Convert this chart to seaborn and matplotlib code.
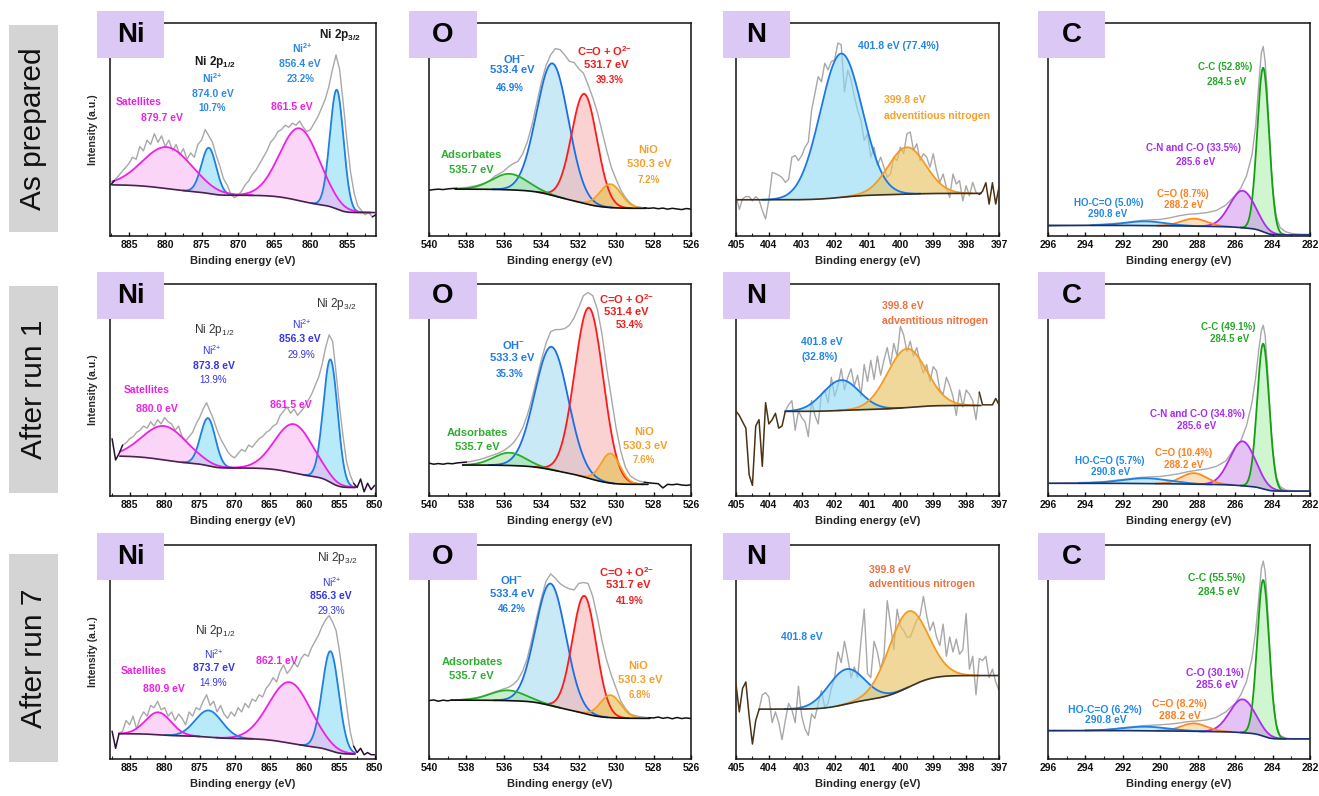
import numpy as np
import matplotlib
matplotlib.use("Agg")
import matplotlib.pyplot as plt
import seaborn as sns
from matplotlib.patches import Rectangle
from matplotlib.ticker import MultipleLocator

# ------------------------------------------------------------------
# values, intensities in % of the frame height
# ------------------------------------------------------------------
row_names = ["As prepared", "After run 1", "After run 7"]
element_names = ["Ni", "O", "N", "C"]

# fitted components: (centre eV, height above background, FWHM eV, species)
ni_peaks_1 = [(856.4, 56.0, 2.2, "ni2"), (861.5, 34.0, 6.4, "sat"), (874.0, 21.5, 2.4, "ni2"), (879.7, 19.5, 8.0, "sat")]
ni_peaks_2 = [(856.3, 58.0, 2.4, "ni2"), (861.5, 23.0, 6.4, "sat"), (873.8, 22.5, 2.5, "ni2"), (880.0, 16.0, 7.5, "sat")]
ni_peaks_3 = [(856.3, 46.5, 2.8, "ni2"), (862.1, 28.5, 7.0, "sat"), (873.7, 12.5, 4.5, "ni2"), (880.9, 10.5, 4.3, "sat")]
o_peaks_1 = [(533.4, 62.0, 2.0, "oh"), (531.7, 51.5, 1.6, "ox"), (530.3, 11.0, 1.35, "nio"), (535.7, 7.5, 2.2, "ads")]
o_peaks_2 = [(533.45, 58.0, 2.1, "oh"), (531.45, 80.5, 1.8, "ox"), (530.3, 14.0, 1.2, "nio"), (535.7, 6.0, 2.0, "ads")]
o_peaks_3 = [(533.5, 57.0, 1.9, "oh"), (531.7, 55.0, 1.5, "ox"), (530.3, 10.5, 1.3, "nio"), (535.8, 4.8, 2.2, "ads")]
n_peaks_1 = [(401.8, 67.5, 1.5, "amine"), (399.8, 22.0, 1.35, "adv")]
n_peaks_2 = [(401.8, 14.3, 1.3, "amine"), (399.8, 27.7, 1.4, "adv")]
n_peaks_3 = [(401.65, 16.3, 1.3, "amine"), (399.77, 35.4, 1.4, "adv")]
c_peaks_1 = [(284.5, 77.0, 0.75, "cc"), (285.6, 17.4, 1.6, "cn"), (288.2, 3.5, 1.6, "ketone"), (290.8, 2.0, 2.5, "hoco")]
c_peaks_2 = [(284.5, 68.5, 0.75, "cc"), (285.6, 21.0, 1.6, "cn"), (288.2, 5.2, 1.6, "ketone"), (290.8, 2.5, 3.0, "hoco")]
c_peaks_3 = [(284.5, 73.0, 0.75, "cc"), (285.6, 15.6, 1.6, "cn"), (288.2, 3.7, 1.6, "ketone"), (290.8, 1.9, 2.8, "hoco")]

# background level at the (low, high) binding energy end of the fit window
ni_bg = [(11.0, 24.0), (4.0, 18.8), (2.3, 11.8)]
o_bg = [(13.0, 22.0), (5.5, 14.6), (19.0, 27.5)]
n_bg = [(20.0, 17.0), (42.7, 39.9), (39.0, 23.3)]
c_bg = [(0.5, 5.0), (2.3, 6.0), (9.4, 13.3)]

# fit windows (low eV, high eV)
ni_window = [(851.2, 887.3), (852.8, 886.4), (852.8, 886.5)]
o_window = [(528.4, 538.6), (528.3, 538.2), (528.2, 538.8)]
n_window = [(397.55, 405.0), (397.55, 403.5), (397.0, 404.3)]
c_window = [(282.0, 296.0), (282.0, 296.0), (282.0, 296.0)]

# raw spectra, Ni: 887.5 eV downwards in 0.5 eV steps
ni_raw_1 = [24, 26, 28, 30, 32, 34, 37, 36, 42, 40, 45, 43, 48, 44, 47, 42,
            45, 40, 43, 38, 41, 36, 39, 37, 43, 45, 50, 47, 44, 38, 33, 27, 24, 20, 18, 19,
            21, 24, 26, 29, 31, 34, 37, 40, 44, 46, 49, 50, 52, 51, 53, 52, 54, 51, 49, 50,
            53, 56, 60, 64, 70, 78, 85, 78, 62, 45, 30, 20, 14, 12, 10, 11, 9, 10]
ni_raw_2 = [27, 17, 20, 24, 25, 27, 28, 30, 31, 33, 32, 35, 33, 36, 34, 37,
            35, 34, 31, 33, 28, 26, 28, 30, 34, 37, 41, 44, 40, 36, 31, 27, 24, 21, 19, 18,
            20, 22, 21, 24, 23, 25, 27, 28, 30, 31, 33, 34, 38, 40, 42, 39, 41, 38, 40, 42,
            45, 48, 52, 56, 62, 70, 76, 73, 58, 42, 28, 16, 10, 6, 4, 8, 2, 6, 3, 5]
ni_raw_3 = [13, 5, 12, 13, 18, 16, 20, 14, 19, 22, 20, 25, 24, 27, 23, 24,
            20, 22, 18, 21, 19, 16, 22, 20, 24, 23, 27, 30, 25, 27, 22, 25, 21, 19, 22, 20,
            24, 22, 26, 24, 28, 27, 30, 29, 33, 35, 38, 36, 41, 44, 40, 42, 45, 43, 47, 49,
            48, 52, 55, 58, 62, 65, 67, 64, 60, 50, 38, 25, 13, 6, 3, 5, 2, 3, 2, 2]

# O: 540 eV downwards in 0.25 eV steps
o_raw_1 = [21.5, 21.8, 22.0, 21.8, 22.1, 22.3, 22.4, 22.6, 22.8, 23.2, 23.6, 24.2, 25.0,
           26.0, 28.0, 29.2, 30.5, 32.5, 34.0, 35.0, 38.5, 44.0, 52.0, 62.0, 72.0, 80.0,
           85.0, 88.0, 87.5, 85.0, 82.0, 81.5, 78.5, 76.5, 71.0, 65.0, 58.0, 49.0, 40.0,
           32.0, 26.5, 21.5, 18.0, 15.5, 14.0, 13.5, 13.2, 13.0, 13.2, 12.8, 13.1, 12.6,
           13.0, 12.7, 12.4, 12.9, 12.6]
o_raw_2 = [15.5, 15.0, 15.3, 15.0, 15.4, 15.2, 15.6, 15.8, 16.0, 16.3, 16.8, 17.3, 18.0,
           18.8, 19.5, 20.4, 21.5, 23.0, 25.0, 28.0, 32.0, 38.0, 46.0, 55.0, 64.0, 72.0,
           77.5, 78.5, 78.5, 79.0, 80.5, 84.0, 89.0, 94.5, 96.0, 94.5, 88.0, 76.0, 60.0,
           46.0, 32.0, 21.0, 13.5, 9.5, 8.0, 7.0, 6.5, 6.2, 6.0, 5.8, 3.8, 5.5, 5.3, 5.6,
           5.2, 5.0, 5.3]
o_raw_3 = [27.3, 27.6, 27.0, 27.5, 27.2, 27.6, 27.4, 27.8, 28.0, 28.3, 28.6, 29.0, 29.8,
           30.5, 31.3, 32.0, 32.8, 33.5, 34.8, 37.0, 41.0, 47.0, 56.0, 66.0, 75.0, 83.0,
           86.5, 84.5, 82.0, 80.5, 79.5, 79.0, 82.0, 82.5, 82.0, 76.0, 66.0, 55.0, 46.0,
           39.0, 33.0, 27.0, 23.5, 21.0, 20.3, 19.8, 19.5, 19.3, 19.2, 19.6, 19.0, 19.4,
           18.8, 19.4, 18.9, 19.2, 18.9]

# N: 405 eV downwards in 0.1 eV steps
n_raw_1 = [18.9, 12.5, 17.5, 18.5, 18.5, 16.5, 18.5, 17.0, 12.0, 8.0,
           17.0, 29.8, 29.3, 28.5, 27.5, 25.2, 26.5, 37.0, 37.8, 35.4,
           37.8, 41.7, 44.1, 59.1, 66.9, 74.8, 72.4, 81.1, 78.0, 81.9,
           82.7, 90.6, 89.8, 67.7, 77.9, 73.2, 65.4, 59.1, 54.3, 44.9,
           48.0, 37.0, 41.7, 33.1, 37.0, 32.3, 27.6, 29.1, 37.0, 35.4,
           41.7, 38.6, 48.0, 48.8, 40.2, 43.3, 35.4, 38.6, 37.0, 32.3,
           38.6, 30.7, 25.2, 29.1, 22.8, 18.1, 29.1, 24.4, 26.0, 16.5,
           23.6, 18.9, 25.2, 20.5, 19.5, 21.0, 25.0, 15.0, 25.0, 15.0, 23.0]
n_raw_2 = [40, 38, 35, 32, 10, 5, 33, 36, 14, 44,
           34, 36, 39, 32, 33, 40, 43, 45, 31, 40,
           37, 35, 28, 45, 38, 34, 48, 50, 44, 56,
           47, 52, 60, 50, 56, 60, 52, 57, 47, 62,
           54, 64, 55, 66, 57, 64, 70, 62, 72, 66,
           80, 76, 68, 73, 66, 70, 63, 58, 62, 54,
           61, 59, 50, 48, 56, 52, 47, 38, 50, 42,
           50, 48, 45, 36, 49, 43, 43, 43, 43, 46, 43]
n_raw_3 = [35, 22, 33, 36, 20, 7, 18, 23, 30, 31,
           29, 17, 22, 17, 9, 18, 26, 23, 17, 34,
           20, 14, 11, 21, 19, 26, 32, 24, 26, 33,
           38, 50, 45, 55, 47, 38, 43, 38, 55, 70,
           40, 38, 55, 50, 42, 48, 74, 63, 51, 70,
           62, 60, 57, 57, 61, 65, 67, 76, 67, 60,
           64, 57, 53, 63, 48, 57, 50, 56, 49, 51,
           68, 42, 48, 30, 47, 46, 48, 38, 42, 36, 32]

# C: sampled at these energies
c_energy = [296, 295, 294, 293, 292, 291, 290, 289.5, 289, 288.5, 288, 287.5, 287, 286.5,
            286, 285.7, 285.4, 285.1, 284.9, 284.75, 284.6, 284.5, 284.4, 284.3, 284.2,
            284.1, 284.0, 283.8, 283.6, 283.3, 283.0, 282.5, 282.0]
c_raw_1 = [4.5, 4.8, 5.0, 5.6, 6.2, 7.3, 7.8, 8.5, 9.5, 10.2, 10.5, 11.0, 12.0, 14.5,
           19.0, 22.5, 28.0, 38.0, 52.0, 70.0, 86.0, 89.0, 82.0, 70.0, 52.0, 35.0, 22.0,
           9.0, 4.0, 2.0, 1.2, 0.8, 0.8]
c_raw_2 = [6.0, 6.2, 6.4, 6.8, 7.8, 8.8, 9.2, 9.8, 10.5, 11.5, 12.2, 12.8, 14.0, 16.5,
           23.0, 26.0, 33.0, 44.0, 56.0, 68.0, 78.0, 80.5, 76.0, 64.0, 49.0, 34.0, 22.0,
           9.0, 4.5, 2.8, 2.5, 2.4, 2.4]
c_raw_3 = [13.0, 13.1, 13.3, 13.6, 14.6, 15.5, 16.0, 16.3, 16.8, 17.5, 17.8, 18.3, 19.5,
           22.0, 26.0, 30.0, 36.0, 47.0, 60.0, 74.0, 89.0, 92.5, 88.0, 76.0, 59.0, 43.0,
           29.0, 16.0, 11.0, 9.8, 9.4, 9.4, 9.4]

# ------------------------------------------------------------------
# styles
# ------------------------------------------------------------------
species_style = {  # line colour, fill colour, fill alpha
    "ni2": ("#1f7fe3", "#7fd9f6", 0.55),
    "sat": ("#f01fe6", "#f7a3ef", 0.45),
    "oh": ("#1a6fe6", "#9fd7f2", 0.55),
    "ox": ("#ff1a1a", "#f8adad", 0.55),
    "nio": ("#f5a023", "#e0bb3a", 0.55),
    "ads": ("#27ad27", "#95e195", 0.5),
    "amine": ("#1c78e6", "#8edaf5", 0.6),
    "adv": ("#f59a24", "#e9c466", 0.65),
    "cc": ("#12a012", "#a9efa9", 0.55),
    "cn": ("#b02af0", "#cc85ec", 0.5),
    "ketone": ("#ff8a1f", "#ffc77a", 0.55),
    "hoco": ("#1e7fe6", "#8edaf5", 0.5),
}
edge_colour = {"Ni": "#2a1030", "O": "#111111", "N": "#4a3214", "C": "#111111"}
bg_colour = {"Ni": "#4a2050", "O": "#111111", "N": "#3d3020", "C": "#1a2f70"}

BL1, BL2, MAG, DK = "#2b8ae6", "#3434e6", "#ee1fe3", "#333333"
OHC, RED, GRN, ORG = "#1f7ae6", "#f21c1c", "#2eae2e", "#f5a02a"
NB, NO2 = "#2185e6", "#f0703c"
CC, CN, CO, HO = "#25a825", "#a52cf0", "#ff7f1e", "#2188e8"
B, R = "bold", "normal"
NI2 = "Ni$^{2{+}}$"
P32, P12 = "Ni 2p$_{3/2}$", "Ni 2p$_{1/2}$"
OHM, OXM = "OH$^{{-}}$", "C=O + O$^{2{-}}$"

# annotations: text, x/y in axes fraction, colour, size, weight, alignment
ni_labels = [
    [(P32, .866, .942, "k", 8.5, B, "center"), (P12, .395, .817, "k", 8.5, B, "center"),
     (NI2, .386, .739, BL1, 7.5, B, "center"), ("874.0 eV", .385, .669, BL1, 7.5, B, "center"),
     ("10.7%", .385, .603, BL1, 7, B, "center"), (NI2, .721, .880, BL1, 7.5, B, "center"),
     ("856.4 eV", .715, .809, BL1, 7.5, B, "center"), ("23.2%", .715, .736, BL1, 7, B, "center"),
     ("Satellites", .107, .630, MAG, 7.5, B, "center"), ("879.7 eV", .194, .552, MAG, 7.5, B, "center"),
     ("861.5 eV", .684, .606, MAG, 7.5, B, "center")],
    [(P32, .851, .906, DK, 8.5, R, "center"), (P12, .393, .784, DK, 8.5, R, "center"),
     (NI2, .383, .687, BL2, 7.5, R, "center"), ("873.8 eV", .389, .614, BL2, 7.5, B, "center"),
     ("13.9%", .389, .548, BL2, 7, R, "center"), (NI2, .721, .811, BL2, 7.5, R, "center"),
     ("856.3 eV", .713, .742, BL2, 7.5, B, "center"), ("29.9%", .719, .666, BL2, 7, R, "center"),
     ("Satellites", .138, .501, MAG, 7.5, B, "center"), ("880.0 eV", .176, .411, MAG, 7.5, B, "center"),
     ("861.5 eV", .678, .427, MAG, 7.5, B, "center")],
    [(P32, .853, .938, DK, 8.5, R, "center"), (NI2, .834, .825, BL2, 7.5, R, "center"),
     ("856.3 eV", .831, .760, BL2, 7.5, B, "center"), ("29.3%", .834, .693, BL2, 7, R, "center"),
     (P12, .395, .597, DK, 8.5, R, "center"), (NI2, .389, .491, BL2, 7.5, R, "center"),
     ("873.7 eV", .389, .426, BL2, 7.5, B, "center"), ("14.9%", .389, .357, BL2, 7, R, "center"),
     ("Satellites", .128, .411, MAG, 7.5, B, "center"), ("880.9 eV", .201, .329, MAG, 7.5, B, "center"),
     ("862.1 eV", .627, .457, MAG, 7.5, B, "center")],
]
o_labels = [
    [(OHM, .328, .831, OHC, 8, B, "center"), ("533.4 eV", .319, .777, OHC, 8, B, "center"),
     ("46.9%", .309, .697, OHC, 7, B, "center"), (OXM, .672, .866, RED, 8, B, "center"),
     ("531.7 eV", .675, .803, RED, 8, B, "center"), ("39.3%", .690, .734, RED, 7, B, "center"),
     ("Adsorbates", .163, .378, GRN, 8, B, "center"), ("535.7 eV", .163, .308, GRN, 8, B, "center"),
     ("NiO", .837, .402, ORG, 8, B, "center"), ("530.3 eV", .841, .336, ORG, 8, B, "center"),
     ("7.2%", .837, .261, ORG, 7, B, "center")],
    [(OXM, .754, .929, RED, 8, B, "center"), ("531.4 eV", .754, .867, RED, 8, B, "center"),
     ("53.4%", .767, .807, RED, 7, B, "center"), (OHM, .322, .710, OHC, 8, B, "center"),
     ("533.3 eV", .319, .650, OHC, 8, B, "center"), ("35.3%", .309, .576, OHC, 7, B, "center"),
     ("Adsorbates", .184, .298, GRN, 8, B, "center"), ("535.7 eV", .184, .231, GRN, 8, B, "center"),
     ("NiO", .821, .301, ORG, 8, B, "center"), ("530.3 eV", .824, .235, ORG, 8, B, "center"),
     ("7.6%", .821, .171, ORG, 7, B, "center")],
    [(OHM, .316, .836, OHC, 8, B, "center"), ("533.4 eV", .319, .773, OHC, 8, B, "center"),
     ("46.2%", .316, .700, OHC, 7, B, "center"), (OXM, .754, .875, RED, 8, B, "center"),
     ("531.7 eV", .761, .813, RED, 8, B, "center"), ("41.9%", .767, .739, RED, 7, B, "center"),
     ("Adsorbates", .167, .453, GRN, 8, B, "center"), ("535.7 eV", .163, .388, GRN, 8, B, "center"),
     ("NiO", .799, .433, ORG, 8, B, "center"), ("530.3 eV", .808, .367, ORG, 8, B, "center"),
     ("6.8%", .805, .300, ORG, 7, B, "center")],
]
n_labels = [
    [("401.8 eV (77.4%)", .465, .893, NB, 7.5, B, "left"), ("399.8 eV", .563, .638, ORG, 7.5, B, "left"),
     ("adventitious nitrogen", .563, .564, ORG, 7.5, B, "left")],
    [("399.8 eV", .556, .894, NO2, 7.5, B, "left"), ("adventitious nitrogen", .556, .826, NO2, 7.5, B, "left"),
     ("401.8 eV", .249, .725, NB, 7.5, B, "left"), ("(32.8%)", .249, .657, NB, 7.5, B, "left")],
    [("399.8 eV", .506, .884, NO2, 7.5, B, "left"), ("adventitious nitrogen", .506, .819, NO2, 7.5, B, "left"),
     ("401.8 eV", .170, .571, NB, 7.5, B, "left")],
]
c_labels = [
    [("C-C (52.8%)", .678, .793, CC, 7, B, "center"), ("284.5 eV", .682, .722, CC, 7, B, "center"),
     ("C-N and C-O (33.5%)", .554, .411, CN, 7, B, "center"), ("285.6 eV", .563, .349, CN, 7, B, "center"),
     ("C=O (8.7%)", .513, .197, CO, 7, B, "center"), ("288.2 eV", .516, .145, CO, 7, B, "center"),
     ("HO-C=O (5.0%)", .231, .156, HO, 7, B, "center"), ("290.8 eV", .229, .104, HO, 7, B, "center")],
    [("C-C (49.1%)", .688, .799, CC, 7, B, "center"), ("284.5 eV", .694, .739, CC, 7, B, "center"),
     ("C-N and C-O (34.8%)", .569, .388, CN, 7, B, "center"), ("285.6 eV", .569, .329, CN, 7, B, "center"),
     ("C=O (10.4%)", .516, .201, CO, 7, B, "center"), ("288.2 eV", .516, .146, CO, 7, B, "center"),
     ("HO-C=O (5.7%)", .236, .166, HO, 7, B, "center"), ("290.8 eV", .238, .114, HO, 7, B, "center")],
    [("C-C (55.5%)", .643, .844, CC, 7.5, B, "center"), ("284.5 eV", .652, .781, CC, 7.5, B, "center"),
     ("C-O (30.1%)", .639, .402, CN, 7.5, B, "center"), ("285.6 eV", .643, .347, CN, 7.5, B, "center"),
     ("C=O (8.2%)", .503, .258, CO, 7.5, B, "center"), ("288.2 eV", .503, .203, CO, 7.5, B, "center"),
     ("HO-C=O (6.2%)", .217, .227, HO, 7.5, B, "center"), ("290.8 eV", .220, .180, HO, 7.5, B, "center")],
]

# ------------------------------------------------------------------
W, H = 1319, 796
col_px = [(110, 376), (429, 691), (736, 999), (1048, 1310)]
row_px = [(23, 236), (284, 496), (545, 759)]
row_box_px = [(25, 232), (286, 493), (554, 762)]
elem_box_x = [(97, 164), (409, 477), (723, 790), (1038, 1105)]

sns.set_theme(style="ticks")
plt.rcParams["font.family"] = ["Liberation Sans", "DejaVu Sans"]
plt.rcParams["font.weight"] = "bold"
plt.rcParams["mathtext.default"] = "regular"
plt.rcParams["axes.linewidth"] = 1.1
plt.rcParams["axes.edgecolor"] = "#111111"


def gauss(e, c, h, w):
    return h * np.exp(-4 * np.log(2) * ((e - c) / w) ** 2)


def draw_spectrum(ax, el, raw_x, raw_y, window, bg_ends, peaks):
    raw_x = np.asarray(raw_x, float)
    raw_y = np.asarray(raw_y, float)
    lo, hi = window
    e = np.linspace(hi, lo, 900)
    comps = [gauss(e, c, h, w) for c, h, w, _ in peaks]
    total = np.sum(comps, axis=0)
    # shirley type step, area counted from the low energy end
    cum = np.cumsum(total[::-1])[::-1]
    bg = bg_ends[0] + (bg_ends[1] - bg_ends[0]) * cum / cum[0]

    inside = (raw_x >= lo - 1e-9) & (raw_x <= hi + 1e-9)
    idx = np.where(inside)[0]
    sns.lineplot(x=raw_x[inside], y=raw_y[inside], ax=ax, color="#a8a8a8",
                 lw=1.0, sort=False, estimator=None, zorder=2)
    if idx[0] > 0:
        ax.plot(raw_x[:idx[0] + 1], raw_y[:idx[0] + 1], color=edge_colour[el], lw=1.1, zorder=5)
    if idx[-1] < len(raw_x) - 1:
        ax.plot(raw_x[idx[-1]:], raw_y[idx[-1]:], color=edge_colour[el], lw=1.1, zorder=5)

    for (c, h, w, kind), comp in zip(peaks, comps):
        line_c, fill_c, alpha = species_style[kind]
        m = comp > 0.05
        ax.fill_between(e, bg, bg + comp, where=m, color=fill_c, alpha=alpha, lw=0, zorder=3)
        ax.plot(e, np.where(m, bg + comp, np.nan), color=line_c, lw=1.3, zorder=4)
    ax.plot(e, bg, color=bg_colour[el], lw=1.2, zorder=5)


fig = plt.figure(figsize=(W / 100, H / 100), dpi=100)

ni_x = lambda raw: 887.5 - 0.5 * np.arange(len(raw))
o_x = lambda raw: 540.0 - 0.25 * np.arange(len(raw))
n_x = lambda raw: 405.0 - 0.1 * np.arange(len(raw))

spectra = {
    "Ni": [(ni_x(r), r, ni_window[i], ni_bg[i], p, ni_labels[i])
           for i, (r, p) in enumerate(zip([ni_raw_1, ni_raw_2, ni_raw_3], [ni_peaks_1, ni_peaks_2, ni_peaks_3]))],
    "O": [(o_x(r), r, o_window[i], o_bg[i], p, o_labels[i])
          for i, (r, p) in enumerate(zip([o_raw_1, o_raw_2, o_raw_3], [o_peaks_1, o_peaks_2, o_peaks_3]))],
    "N": [(n_x(r), r, n_window[i], n_bg[i], p, n_labels[i])
          for i, (r, p) in enumerate(zip([n_raw_1, n_raw_2, n_raw_3], [n_peaks_1, n_peaks_2, n_peaks_3]))],
    "C": [(c_energy, r, c_window[i], c_bg[i], p, c_labels[i])
          for i, (r, p) in enumerate(zip([c_raw_1, c_raw_2, c_raw_3], [c_peaks_1, c_peaks_2, c_peaks_3]))],
}
xlims = {"Ni": [(887.6, 851.0), (887.8, 849.8), (887.8, 849.8)],
         "O": [(540, 526)] * 3, "N": [(405, 397)] * 3, "C": [(296, 282)] * 3}
major = {"Ni": 5, "O": 2, "N": 1, "C": 2}

for r in range(3):
    y0, y1 = row_px[r]
    for c, el in enumerate(element_names):
        x0, x1 = col_px[c]
        ax = fig.add_axes([x0 / W, 1 - y1 / H, (x1 - x0) / W, (y1 - y0) / H])
        raw_x, raw_y, window, bg_ends, peaks, labels = spectra[el][r]
        draw_spectrum(ax, el, raw_x, raw_y, window, bg_ends, peaks)
        for txt, fx, fy, col, size, weight, ha in labels:
            ax.text(fx, fy, txt, transform=ax.transAxes, color=col, fontsize=size,
                    fontweight=weight, ha=ha, va="center", zorder=6)
        ax.set_xlim(*xlims[el][r])
        ax.set_ylim(0, 100)
        ax.set_yticks([])
        ax.xaxis.set_major_locator(MultipleLocator(major[el]))
        ax.xaxis.set_minor_locator(MultipleLocator(major[el] / 2))
        ax.tick_params(axis="x", which="major", direction="in", length=3, width=1,
                       labelsize=7.5, pad=3, colors="#111111")
        ax.tick_params(axis="x", which="minor", direction="in", length=2, width=0.8)
        ax.set_xlabel("Binding energy (eV)", fontsize=8, fontweight="bold", labelpad=4)
        if el == "Ni":
            ax.set_ylabel("Intensity (a.u.)", fontsize=7.5, fontweight="bold", labelpad=9)
        else:
            ax.set_ylabel("")

        # element badge
        bx0, bx1 = elem_box_x[c]
        by0, by1 = y0 - 12, y0 + 35
        fig.add_artist(Rectangle((bx0 / W, 1 - by1 / H), (bx1 - bx0) / W, (by1 - by0) / H,
                                 transform=fig.transFigure, facecolor="#dcc8f5",
                                 edgecolor="none", zorder=10))
        fig.text((bx0 + bx1) / 2 / W, 1 - (by0 + by1) / 2 / H, el, ha="center", va="center",
                 fontsize=20, fontweight="bold", color="black", zorder=11)

    ry0, ry1 = row_box_px[r]
    fig.add_artist(Rectangle((9 / W, 1 - ry1 / H), 49 / W, (ry1 - ry0) / H,
                             transform=fig.transFigure, facecolor="#d4d4d4",
                             edgecolor="none", zorder=10))
    fig.text(33.5 / W, 1 - (ry0 + ry1) / 2 / H, row_names[r], rotation=90, ha="center",
             va="center", fontsize=21.5, fontweight="normal", color="#111111", zorder=11)

fig.savefig("out.png", dpi=100)
